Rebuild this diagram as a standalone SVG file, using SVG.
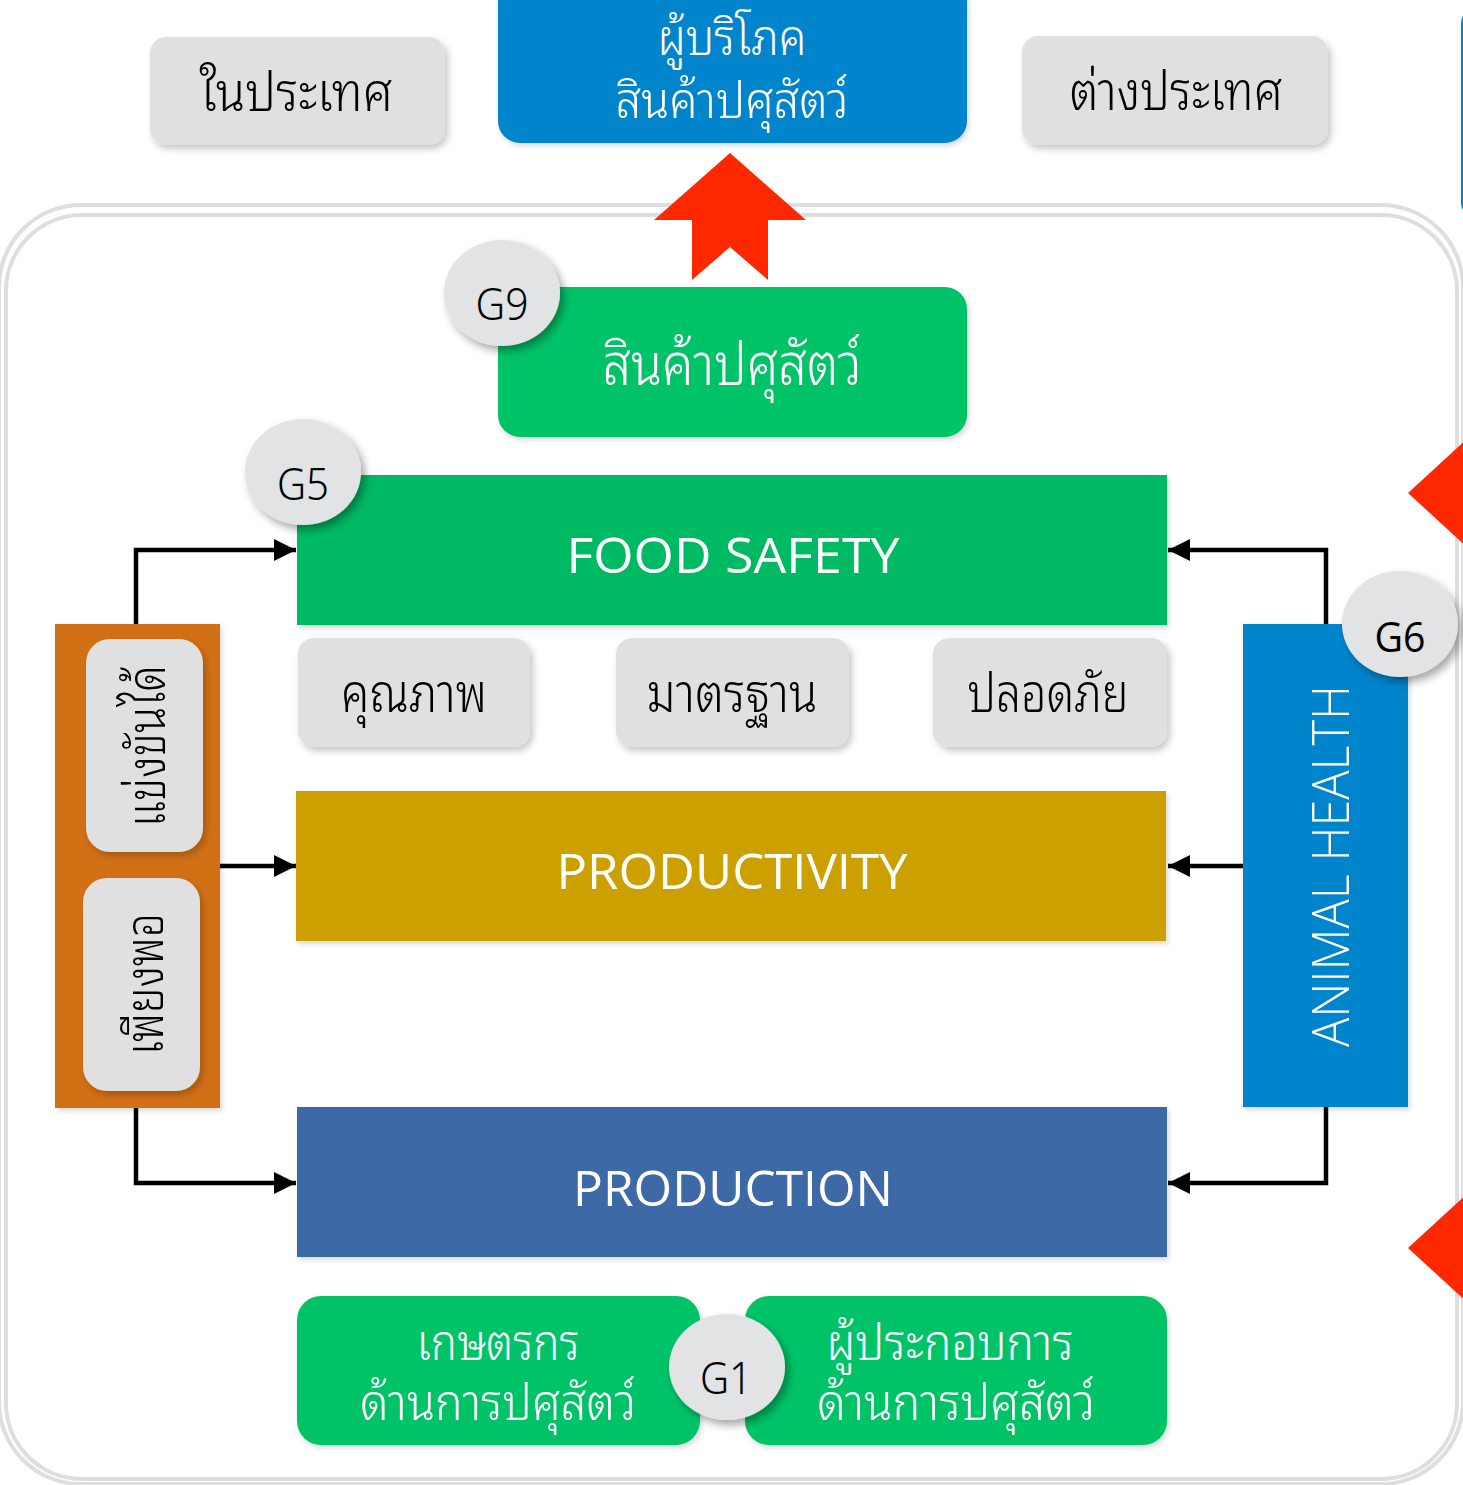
<svg xmlns="http://www.w3.org/2000/svg" width="1463" height="1485" viewBox="0 0 1463 1485">
<defs>
<filter id="sh" x="-20%" y="-20%" width="140%" height="150%"><feDropShadow dx="3" dy="4" stdDeviation="3.5" flood-color="#000" flood-opacity="0.22"/></filter>
<filter id="shc" x="-30%" y="-30%" width="160%" height="170%"><feDropShadow dx="4" dy="5" stdDeviation="4" flood-color="#000" flood-opacity="0.35"/></filter>
<filter id="shl" x="-5%" y="-5%" width="110%" height="115%"><feDropShadow dx="2" dy="3" stdDeviation="2.5" flood-color="#000" flood-opacity="0.15"/></filter>
<marker id="ah" viewBox="0 0 10 10" refX="10" refY="5" markerUnits="userSpaceOnUse" markerWidth="24" markerHeight="22" orient="auto"><path d="M0,0 L10,5 L0,10 z" fill="#000"/></marker>
</defs>
<style>
.th{font-family:"Noto Sans Thai Looped","Garuda","Loma","Noto Sans Thai","Noto Sans","DejaVu Sans",sans-serif;text-anchor:middle;font-weight:300}
.en{font-family:"Open Sans","Noto Sans","Liberation Sans",sans-serif;text-anchor:middle;font-weight:400}
.lt{font-weight:300}
.w{fill:#fff}
.k{fill:#000}
.gray{fill:#e0e0e0}
.circ{fill:#e2e3e5}
.frame{fill:none;stroke:#dedede;stroke-width:4}
.con{fill:none;stroke:#000;stroke-width:4.5}
</style>
<rect width="1463" height="1485" fill="#fff"/>
<g id="frame">
<rect class="frame" x="-1" y="205" width="1464" height="1279" rx="82" ry="82"/>
<rect class="frame" x="6" y="215" width="1451" height="1264" rx="76" ry="76"/>
<rect x="1461" y="9" width="60" height="208" rx="14" fill="#0284cc"/>
<polygon points="1408,493 1470,436 1470,550" fill="#ff2800"/>
<polygon points="1408,1248 1470,1191 1470,1305" fill="#ff2800"/>
</g>
<g id="n-domestic">
<rect class="gray" x="150" y="37" width="295" height="108" rx="16" filter="url(#sh)"/>
<text class="th k" x="296" y="111" font-size="54" textLength="193" lengthAdjust="spacingAndGlyphs">ในประเทศ</text>
</g>
<g id="n-consumer">
<rect x="498" y="-20" width="469" height="163" rx="22" fill="#0385cd" filter="url(#shl)"/>
<text class="th w" x="732" y="55" font-size="50" textLength="149" lengthAdjust="spacingAndGlyphs">ผู้บริโภค</text>
<text class="th w" x="732" y="118" font-size="50" textLength="233" lengthAdjust="spacingAndGlyphs">สินค้าปศุสัตว์</text>
</g>
<g id="n-foreign">
<rect class="gray" x="1022" y="36" width="306" height="109" rx="16" filter="url(#sh)"/>
<text class="th k" x="1176" y="110" font-size="54" textLength="213" lengthAdjust="spacingAndGlyphs">ต่างประเทศ</text>
</g>
<g id="red-arrow">
<polygon points="730,153 806,220 768,220 768,280 730,247 692,280 692,220 654,220" fill="#ff2800"/>
</g>
<g id="n-products">
<rect x="498" y="287" width="469" height="150" rx="22" fill="#03c368" filter="url(#shl)"/>
<text class="th w" x="732" y="385" font-size="58" textLength="259" lengthAdjust="spacingAndGlyphs">สินค้าปศุสัตว์</text>
</g>
<g id="g9">
<ellipse class="circ" cx="502" cy="293" rx="58" ry="53" filter="url(#shc)"/>
<text class="th k" x="502" y="320" font-size="44" textLength="53" lengthAdjust="spacingAndGlyphs">G9</text>
</g>
<g id="connectors">
<path class="con" d="M136,624 V550 H296" marker-end="url(#ah)"/>
<path class="con" d="M220,866 H296" marker-end="url(#ah)"/>
<path class="con" d="M136,1108 V1183 H296" marker-end="url(#ah)"/>
<path class="con" d="M1326,624 V550 H1168" marker-end="url(#ah)"/>
<path class="con" d="M1243,866 H1168" marker-end="url(#ah)"/>
<path class="con" d="M1326,1107 V1183 H1168" marker-end="url(#ah)"/>
</g>
<g id="n-foodsafety">
<rect x="297" y="475" width="870" height="150" fill="#00b964" filter="url(#shl)"/>
<text class="en w" x="733" y="573" font-size="50" textLength="333" lengthAdjust="spacingAndGlyphs">FOOD SAFETY</text>
</g>
<g id="g5">
<ellipse class="circ" cx="303" cy="472" rx="58" ry="53" filter="url(#shc)"/>
<text class="th k" x="303" y="500" font-size="44" textLength="52" lengthAdjust="spacingAndGlyphs">G5</text>
</g>
<g id="n-quality">
<rect class="gray" x="298" y="638" width="232" height="109" rx="16" filter="url(#sh)"/>
<text class="th k" x="414" y="712" font-size="54" textLength="146" lengthAdjust="spacingAndGlyphs">คุณภาพ</text>
</g>
<g id="n-standard">
<rect class="gray" x="616" y="638" width="233" height="109" rx="16" filter="url(#sh)"/>
<text class="th k" x="732" y="712" font-size="54" textLength="171" lengthAdjust="spacingAndGlyphs">มาตรฐาน</text>
</g>
<g id="n-safe">
<rect class="gray" x="933" y="638" width="234" height="109" rx="16" filter="url(#sh)"/>
<text class="th k" x="1048" y="712" font-size="54" textLength="161" lengthAdjust="spacingAndGlyphs">ปลอดภัย</text>
</g>
<g id="n-productivity">
<rect x="296" y="791" width="870" height="150" fill="#cca000" filter="url(#shl)"/>
<text class="en w" x="732" y="889" font-size="50" textLength="351" lengthAdjust="spacingAndGlyphs">PRODUCTIVITY</text>
</g>
<g id="n-production">
<rect x="297" y="1107" width="870" height="150" fill="#3c69a7" filter="url(#shl)"/>
<text class="en w" x="733" y="1206" font-size="50" textLength="320" lengthAdjust="spacingAndGlyphs">PRODUCTION</text>
</g>
<g id="n-left">
<rect x="55" y="624" width="165" height="484" fill="#d27014" filter="url(#shl)"/>
<rect class="gray" x="86" y="639" width="117" height="213" rx="24" filter="url(#sh)"/>
<rect class="gray" x="83" y="878" width="117" height="213" rx="24" filter="url(#sh)"/>
<text class="th k" transform="translate(146,746) rotate(-90)" x="0" y="19" font-size="54" textLength="162" lengthAdjust="spacingAndGlyphs">แข่งขันได้</text>
<text class="th k" transform="translate(144,984) rotate(-90)" x="0" y="19" font-size="54" textLength="142" lengthAdjust="spacingAndGlyphs">เพียงพอ</text>
</g>
<g id="n-animalhealth">
<rect x="1243" y="624" width="165" height="483" fill="#0284cc" filter="url(#shl)"/>
<text class="en lt w" transform="translate(1330,866) rotate(-90)" x="0" y="19" font-size="52" textLength="362" lengthAdjust="spacingAndGlyphs">ANIMAL HEALTH</text>
</g>
<g id="g6">
<ellipse class="circ" cx="1400" cy="624" rx="58" ry="53" filter="url(#shc)"/>
<text class="en k" x="1400" y="652" font-size="42" textLength="51" lengthAdjust="spacingAndGlyphs">G6</text>
</g>
<g id="n-farmers">
<rect x="297" y="1296" width="403" height="149" rx="24" fill="#03c368" filter="url(#shl)"/>
<text class="th w" x="498" y="1360" font-size="50" textLength="163" lengthAdjust="spacingAndGlyphs">เกษตรกร</text>
<text class="th w" x="498" y="1420" font-size="50" textLength="276" lengthAdjust="spacingAndGlyphs">ด้านการปศุสัตว์</text>
</g>
<g id="n-operators">
<rect x="745" y="1296" width="422" height="149" rx="24" fill="#03c368" filter="url(#shl)"/>
<text class="th w" x="950" y="1360" font-size="50" textLength="247" lengthAdjust="spacingAndGlyphs">ผู้ประกอบการ</text>
<text class="th w" x="956" y="1420" font-size="50" textLength="278" lengthAdjust="spacingAndGlyphs">ด้านการปศุสัตว์</text>
</g>
<g id="g1">
<ellipse class="circ" cx="727" cy="1367" rx="58" ry="53" filter="url(#shc)"/>
<text class="th k" x="726" y="1394" font-size="44" textLength="52" lengthAdjust="spacingAndGlyphs">G1</text>
</g>
</svg>
